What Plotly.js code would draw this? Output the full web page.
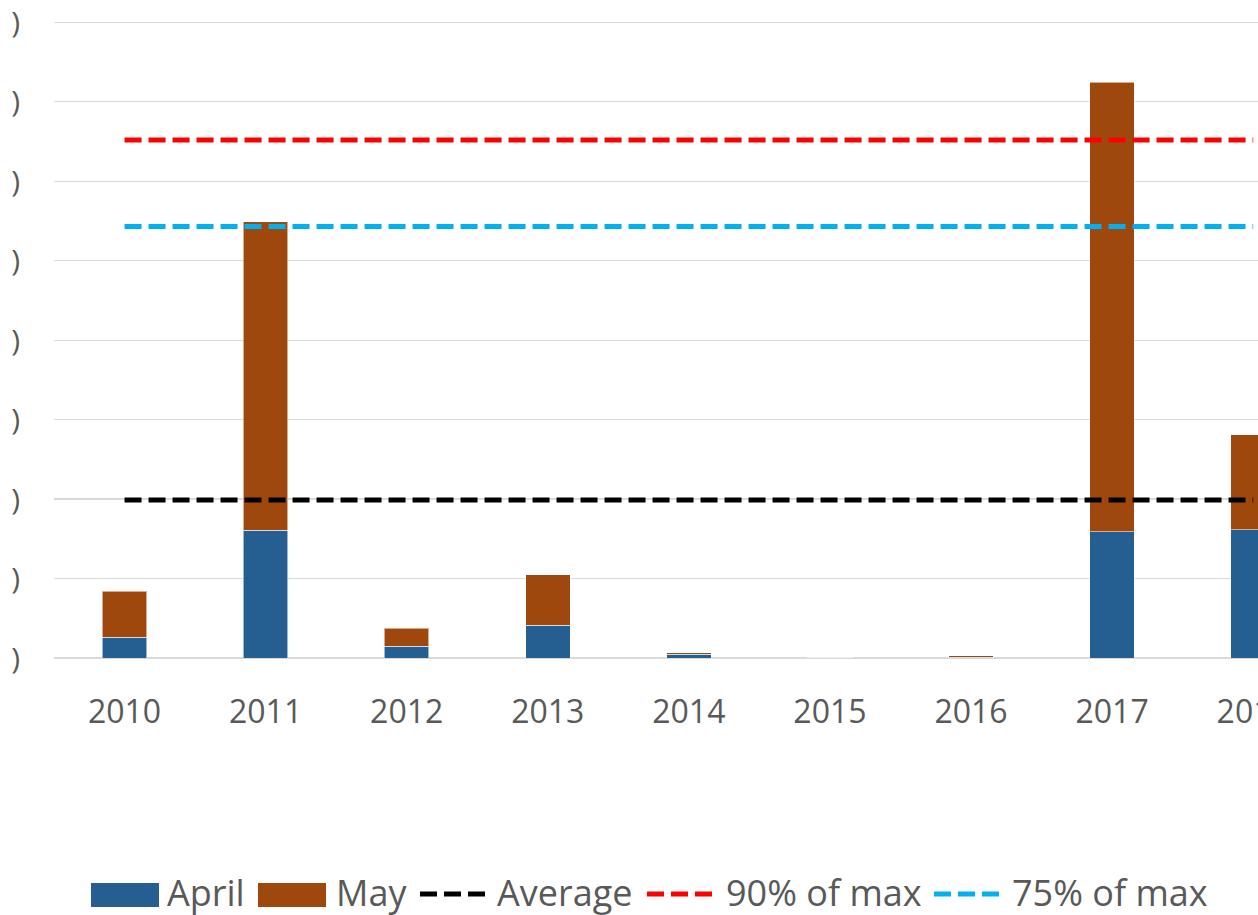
<!DOCTYPE html>
<html>
<head>
<meta charset="utf-8">
<script src="https://cdn.plot.ly/plotly-3.0.1.min.js"></script>
<style>html,body{margin:0;padding:0;background:#fff;}#chart{width:1258px;height:915px;}</style>
</head>
<body>
<div id="chart"></div>
<script>
// Categories
const years = ["2010","2011","2012","2013","2014","2015","2016","2017","2018"];
// Stacked bar series
const april = [0.264, 1.61, 0.146, 0.415, 0.045, 0.000, 0.008, 1.59, 1.616];
const may   = [0.579, 3.88, 0.231, 0.633, 0.018, 0.004, 0.022, 5.655, 1.195];
// Reference lines
const average   = [1.99, 1.99, 1.99, 1.99, 1.99, 1.99, 1.99, 1.99, 1.99];
const pct90Max  = [6.52, 6.52, 6.52, 6.52, 6.52, 6.52, 6.52, 6.52, 6.52];
const pct75Max  = [5.43, 5.43, 5.43, 5.43, 5.43, 5.43, 5.43, 5.43, 5.43];
// Y tick labels (only the closing bracket is visible in the reference)
const yTickVals = [0, 1, 2, 3, 4, 5, 6, 7, 8];
const yTickText = [")", ")", ")", ")", ")", ")", ")", ")", ")"];
// Legend entries
const legendNames  = ["April", "May", "Average", "90% of max", "75% of max"];

const txt = "#595959";
const font = "Open Sans, Liberation Sans, sans-serif";
const cApril = "#255E91", cMay = "#9E480E";
const cAvg = "#000000", c90 = "#FF0000", c75 = "#00B0F0";
const dash = "17px,7px";

const traces = [
  {type: "bar", name: legendNames[0], x: years, y: april,
   marker: {color: cApril, line: {color: "rgba(255,255,255,0.55)", width: 1}}},
  {type: "bar", name: legendNames[1], x: years, y: may,
   marker: {color: cMay, line: {color: "rgba(255,255,255,0.55)", width: 1}}},
  {type: "scatter", mode: "lines", name: legendNames[2], x: years, y: average,
   line: {color: cAvg, width: 5, dash: dash}},
  {type: "scatter", mode: "lines", name: legendNames[3], x: years, y: pct90Max,
   line: {color: c90, width: 5, dash: dash}},
  {type: "scatter", mode: "lines", name: legendNames[4], x: years, y: pct75Max,
   line: {color: c75, width: 5, dash: dash}}
];

// Plot-area geometry
const L = 54, R = 1258, T = 20, B = 658;
const yMax = 8.03;
// Custom legend (pixel layout converted to paper coordinates)
const px = v => (v - L) / (R - L);
const py = v => (B - v) / (B - T);
const legY = 894;
const shapes = [
  {type: "rect", xref: "paper", yref: "paper", x0: px(91), x1: px(159), y0: py(907), y1: py(883),
   fillcolor: cApril, line: {width: 0}},
  {type: "rect", xref: "paper", yref: "paper", x0: px(258), x1: px(326), y0: py(907), y1: py(883),
   fillcolor: cMay, line: {width: 0}},
  {type: "line", xref: "paper", yref: "paper", x0: px(420), x1: px(486), y0: py(legY), y1: py(legY),
   line: {color: cAvg, width: 5, dash: dash}},
  {type: "line", xref: "paper", yref: "paper", x0: px(647), x1: px(712), y0: py(legY), y1: py(legY),
   line: {color: c90, width: 5, dash: dash}},
  {type: "line", xref: "paper", yref: "paper", x0: px(934), x1: px(999), y0: py(legY), y1: py(legY),
   line: {color: c75, width: 5, dash: dash}}
];
const legTextX = [166, 335, 496, 725, 1011];
const annotations = legendNames.map((n, i) => ({
  text: n, xref: "paper", yref: "paper", x: px(legTextX[i]), y: py(892),
  xanchor: "left", yanchor: "middle", showarrow: false, borderpad: 0,
  font: {family: font, size: 36, color: txt}
}));

const layout = {
  width: 1258, height: 915,
  margin: {l: L, r: 0, t: T, b: 915 - B, pad: 0},
  paper_bgcolor: "#ffffff", plot_bgcolor: "#ffffff",
  barmode: "stack",
  bargap: 0.685,
  font: {family: font, color: txt, size: 32},
  xaxis: {
    type: "category",
    range: [-0.5, 8.034],
    showgrid: false, zeroline: false, showline: false,
    ticks: "", ticklabelstandoff: 32,
    tickfont: {family: font, size: 32, color: txt}
  },
  yaxis: {
    range: [0, yMax],
    tickmode: "array", tickvals: yTickVals, ticktext: yTickText,
    showgrid: true, gridcolor: "#d9d9d9", gridwidth: 1.3,
    zeroline: true, zerolinecolor: "#d9d9d9", zerolinewidth: 1.3,
    showline: false, ticks: "",
    ticklabelstandoff: 33,
    tickfont: {family: font, size: 30, color: txt}
  },
  showlegend: false,
  shapes: shapes,
  annotations: annotations
};

Plotly.newPlot("chart", traces, layout, {displayModeBar: false, staticPlot: true});
</script>
</body>
</html>
